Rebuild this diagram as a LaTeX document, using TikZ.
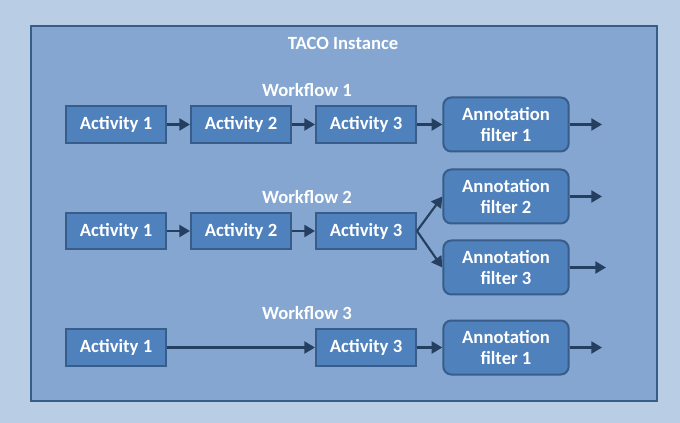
\documentclass[tikz,border=0pt]{standalone}
\usepackage{fontspec}
\setmainfont{Carlito}
\definecolor{pagebg}{HTML}{B9CDE5}
\definecolor{frame}{HTML}{385D8A}
\definecolor{inst}{HTML}{84A6D0}
\definecolor{boxfill}{HTML}{4F81BD}
\definecolor{arrowc}{HTML}{243F60}
\usetikzlibrary{arrows.meta, positioning}

\begin{document}
\begin{tikzpicture}[
  x=0.75pt, y=-0.75pt,
  every node/.style={font=\bfseries\fontsize{14}{16}\selectfont, text=white},
  activity/.style={rectangle, draw=frame, fill=boxfill, line width=1.5pt,
                   minimum width=75pt, minimum height=27.5pt, inner sep=0pt},
  annot/.style={rectangle, rounded corners=6pt, draw=frame, fill=boxfill,
                line width=1.5pt, align=center, minimum width=94pt,
                minimum height=40.5pt, inner sep=0pt},
  flowlabel/.style={inner sep=0pt},
  link/.style={-{Triangle[length=8pt, width=9pt]}, line width=1.6pt, draw=arrowc}
]
  % background and instance frame
  \fill[pagebg] (0,0) rectangle (680,423);
  \draw[frame, fill=inst, line width=2.2pt] (31,26) rectangle (657,401);
  \node[flowlabel] (taco) at (343,43) {TACO Instance};

  % workflow 1
  \node[flowlabel] (wf1) at (307,90) {Workflow 1};
  \node[activity] (a11) at (116,124.5) {Activity 1};
  \node[activity] (a12) at (241,124.5) {Activity 2};
  \node[activity] (a13) at (366,124.5) {Activity 3};
  \node[annot] (f11) at (506,124.5) {Annotation\\filter 1};
  \coordinate (o11) at (602,124.5);

  % workflow 2
  \node[flowlabel] (wf2) at (307,197) {Workflow 2};
  \node[activity] (a21) at (116,231) {Activity 1};
  \node[activity] (a22) at (241,231) {Activity 2};
  \node[activity] (a23) at (366,231) {Activity 3};
  \node[annot] (f22) at (506,196.5) {Annotation\\filter 2};
  \node[annot] (f23) at (506,267.5) {Annotation\\filter 3};
  \coordinate (o22) at (602,196.5);
  \coordinate (o23) at (606,267.5);

  % workflow 3
  \node[flowlabel] (wf3) at (307,313) {Workflow 3};
  \node[activity] (a31) at (116,347.5) {Activity 1};
  \node[activity] (a33) at (366,347.5) {Activity 3};
  \node[annot] (f31) at (506,347.5) {Annotation\\filter 1};
  \coordinate (o31) at (602,347.5);

  % connectors
  \draw[link] (a11) -- (a12);
  \draw[link] (a12) -- (a13);
  \draw[link] (a13) -- (f11);
  \draw[link] (f11) -- (o11);
  \draw[link] (a21) -- (a22);
  \draw[link] (a22) -- (a23);
  \draw[link] (a23.east) -- (f22.west);
  \draw[link] (a23.east) -- (f23.west);
  \draw[link] (f22) -- (o22);
  \draw[link] (f23) -- (o23);
  \draw[link] (a31) -- (a33);
  \draw[link] (a33) -- (f31);
  \draw[link] (f31) -- (o31);
\end{tikzpicture}
\end{document}
